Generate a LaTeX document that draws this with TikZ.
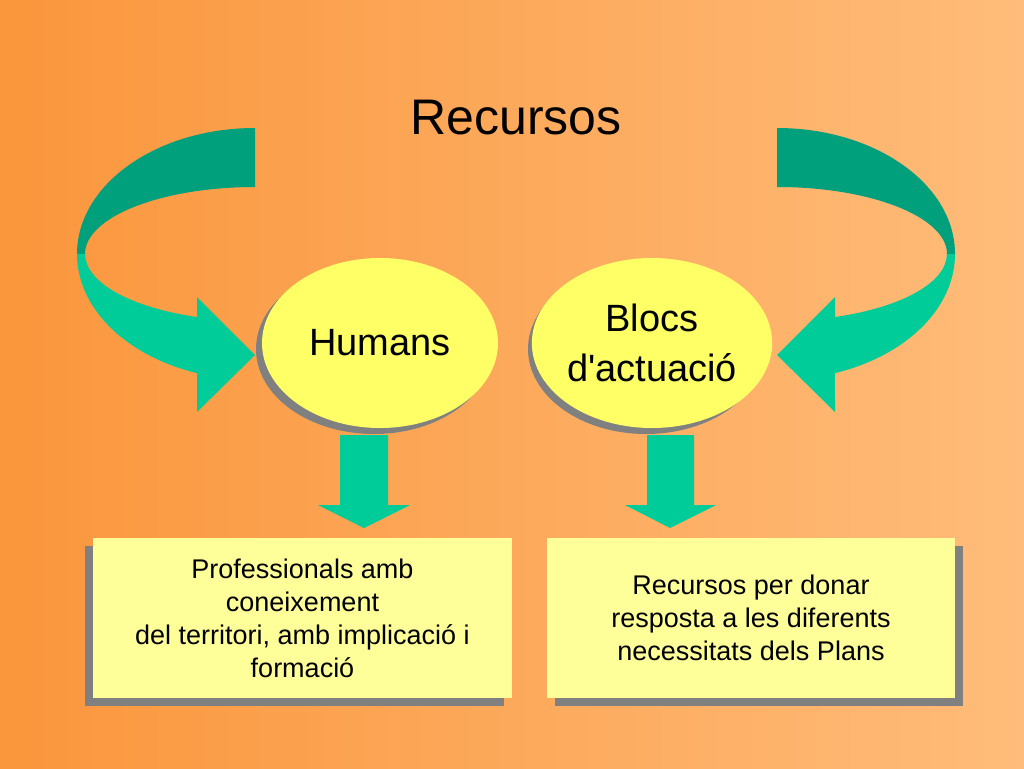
\documentclass[tikz,border=0pt]{standalone}
\usepackage{fontspec}
\setmainfont{Liberation Sans}
\usetikzlibrary{shapes.geometric}
\begin{document}
\begin{tikzpicture}[x=1pt,y=-1pt,
  dk/.style={fill={rgb,255:red,0;green,160;blue,125}},
  lt/.style={fill={rgb,255:red,0;green,204;blue,153}},
  ell/.style={ellipse,fill={rgb,255:red,255;green,255;blue,102},minimum width=236pt,minimum height=170pt,inner sep=0pt,align=center,font=\fontsize{38}{50}\selectfont},
  sh/.style={fill={rgb,255:red,128;green,128;blue,128}},
  bx/.style={fill={rgb,255:red,255;green,255;blue,153},minimum width=419pt,minimum height=160pt,inner sep=0pt,align=center,font=\fontsize{27}{33}\selectfont}]
\shade[left color={rgb,255:red,250;green,150;blue,60},right color={rgb,255:red,255;green,188;blue,122}] (0,0) rectangle (1024,768);
\useasboundingbox (0,0) rectangle (1024,768);
\node (title) at (516,118) {\fontsize{50}{60}\selectfont Recursos};
% curved arrows
\foreach \s in {1,-1}{
\begin{scope}[xshift=516pt,xscale=\s,xshift=-516pt]
\fill[dk] (255,128) arc[start angle=-90,end angle=-180,x radius=178,y radius=126] -- (85,254) arc[start angle=-180,end angle=-90,x radius=170,y radius=67] -- cycle;
\fill[lt] (77,254) arc[start angle=180,end angle=109,x radius=178,y radius=126] -- (197,412) -- (255,355) -- (197,297) -- (197,317) arc[start angle=110,end angle=180,x radius=170,y radius=67] -- cycle;
\end{scope}}
% ellipses
\fill[sh] (374,349) ellipse[x radius=118,y radius=85];
\node[ell] (hum) at (380,343) {Humans};
\fill[sh] (646,349) ellipse[x radius=118,y radius=85];
\node[ell] (blo) at (652,343) {Blocs\\d\textquotesingle actuació};
% down arrows
\fill[lt] (340,435) -- (388,435) -- (388,505) -- (410,505) -- (364,528) -- (318,505) -- (340,505) -- cycle;
\fill[lt] (647,435) -- (694,435) -- (694,505) -- (716,505) -- (670,528) -- (625,505) -- (647,505) -- cycle;
% boxes
\fill[sh] (85,546) rectangle (504,706);
\node[bx] (b1) at (302.5,618) {Professionals amb\\coneixement\\del territori, amb implicació i\\formació};
\fill[sh] (555,546) rectangle (963,706);
\node[bx,minimum width=408pt] (b2) at (751,618) {Recursos per donar\\resposta a les diferents\\necessitats dels Plans};
\end{tikzpicture}
\end{document}
